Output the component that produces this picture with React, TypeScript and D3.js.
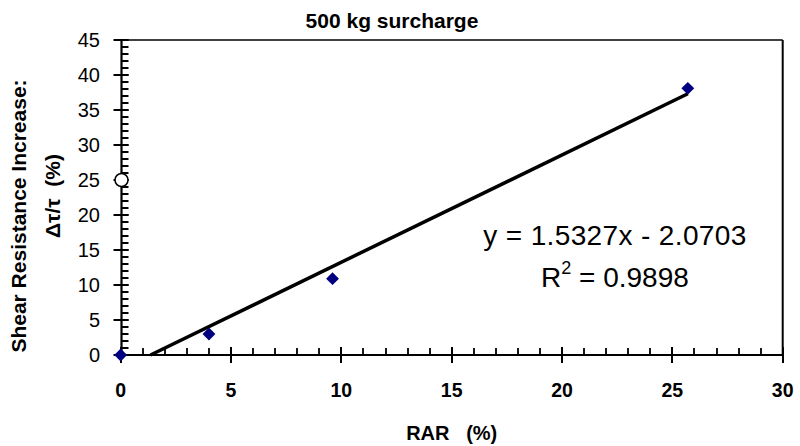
import React from "react";
import * as d3 from "d3";

const rarValues = [0, 4.0, 9.6, 25.7];
const shearIncrease = [0, 3.0, 10.9, 38.1];
const xTicks = [0, 5, 10, 15, 20, 25, 30];
const yTicks = [0, 5, 10, 15, 20, 25, 30, 35, 40, 45];
const slope = 1.5327;
const intercept = -2.0703;
const rSquared = "0.9898";
const markedValue = 25;
const title = "500 kg surcharge";

export default function App() {
  const W = 800, H = 446;
  const x = d3.scaleLinear().domain([0, 30]).range([120.7, 782.7]);
  const y = d3.scaleLinear().domain([0, 45]).range([355, 40]);
  const xMinor = x.ticks(30);
  const yMinor = y.ticks(45);
  const x0 = -intercept / slope;
  const x1 = d3.max(rarValues) as number;
  const trend = d3.line<number>().x((d) => x(d)).y((d) => y(slope * d + intercept));
  const font = "Arial, 'Liberation Sans', Helvetica, sans-serif";
  const diamond = d3.symbol().type(d3.symbolDiamond2 ?? d3.symbolDiamond).size(105)();
  const ax = Math.round(x(0)) + 0.5;
  const yMinorPath = yMinor.map((v) => `M${ax},${Math.round(y(v))}h7`).join("");
  const xMinorPath = xMinor.map((v) => `M${Math.round(x(v))},${y(0)}v-7`).join("");
  return (
    <svg width={W} height={H} style={{ position: "absolute", left: 0, top: 0, background: "#fff" }} fontFamily={font}>
      <rect x={0} y={0} width={W} height={H} fill="#fff" />
      {/* minor ticks */}
      <path d={yMinorPath} stroke="#000" strokeWidth={1.8} fill="none" />
      <path d={xMinorPath} stroke="#000" strokeWidth={1.8} fill="none" />
      {/* frame */}
      <line x1={x(0)} x2={x(30)} y1={y(45)} y2={y(45)} stroke="#000" strokeWidth={1.5} />
      <line x1={x(30)} x2={x(30)} y1={y(45)} y2={y(0)} stroke="#000" strokeWidth={2} />
      {/* y axis */}
      <line x1={ax} x2={ax} y1={y(45)} y2={y(0)} stroke="#000" strokeWidth={2.2} />
      {yTicks.map((v) => (
        <g key={"yt" + v}>
          <line x1={ax - 8} x2={ax + 7} y1={Math.round(y(v))} y2={Math.round(y(v))} stroke="#000" strokeWidth={2} />
          <text x={100} y={y(v)} dy="0.36em" textAnchor="end" fontSize={20} fill="#000">{v}</text>
        </g>
      ))}
      {/* x axis */}
      <line x1={x(0)} x2={x(30)} y1={y(0)} y2={y(0)} stroke="#000" strokeWidth={2.2} />
      {xTicks.map((v) => (
        <g key={"xt" + v}>
          <line x1={Math.round(x(v))} x2={Math.round(x(v))} y1={y(0) - 8} y2={y(0) + 8} stroke="#000" strokeWidth={2} />
          <text x={x(v)} y={397} textAnchor="middle" fontSize={19.5} fontWeight="bold" fill="#000">{v}</text>
        </g>
      ))}
      {/* trend line */}
      <path d={trend([x0, x1]) || ""} stroke="#000" strokeWidth={3.5} fill="none" />
      {/* data points */}
      {rarValues.map((v, i) => (
        <path key={"p" + i} d={diamond || ""} transform={`translate(${x(v)},${y(shearIncrease[i])})`} fill="#000080" />
      ))}
      {/* marker circle on axis */}
      <circle cx={ax} cy={y(markedValue)} r={6.5} fill="#fff" stroke="#000" strokeWidth={1.5} />
      {/* title */}
      <text x={392} y={28} textAnchor="middle" fontSize={21} fontWeight="bold" fill="#000">{title}</text>
      {/* axis labels */}
      <text x={451.7} y={440} textAnchor="middle" fontSize={20} fontWeight="bold" fill="#000" style={{ whiteSpace: "pre" }}>{"RAR   (%)"}</text>
      <text transform="translate(26,216) rotate(-90)" textAnchor="middle" fontSize={21} fontWeight="bold" fill="#000">Shear Resistance Increase:</text>
      <text transform="translate(60,196) rotate(-90)" textAnchor="middle" fontSize={21} fontWeight="bold" fill="#000" style={{ whiteSpace: "pre" }}>{"Δτ/τ  (%)"}</text>
      {/* equation */}
      <text x={483.3} y={245} fontSize={28} fill="#000" textLength={263} lengthAdjust="spacing">{`y = ${slope}x - ${Math.abs(intercept).toFixed(4)}`}</text>
      <text x={541} y={287.3} fontSize={28} fill="#000">
        R<tspan fontSize={18} dy={-13}>2</tspan><tspan dy={13}>{` = ${rSquared}`}</tspan>
      </text>
    </svg>
  );
}
